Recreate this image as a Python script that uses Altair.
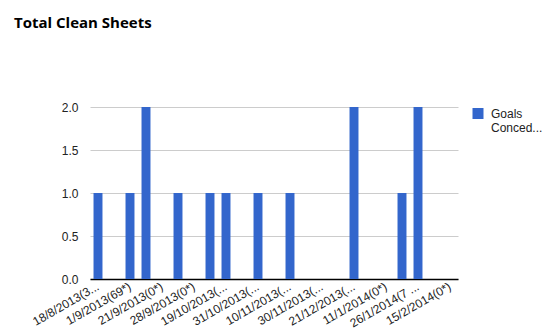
import json
import altair as alt
import pandas as pd

# Values per match (23 matches), only every other label shown on axis
goals = [1, 0, 1, 2, 0, 1, 0, 1, 1, 0, 1, 0, 1, 0, 0, 0, 2, 0, 0, 1, 2, 0, 0]
tick_labels = [
    "18/8/2013(3...", "1/9/2013(69*)", "21/9/2013(0*)", "28/9/2013(0*)",
    "19/10/2013(...", "31/10/2013(...", "10/11/2013(...", "30/11/2013(...",
    "21/12/2013(...", "11/1/2014(0*)", "26/1/2014(7 ...", "15/2/2014(0*)",
]
series_name = "Goals Conceded"

df = pd.DataFrame({
    "idx": list(range(len(goals))),
    "goals": goals,
    "series": [series_name] * len(goals),
})

label_expr = (
    "datum.value % 2 == 0 ? " + json.dumps(tick_labels) + "[datum.value / 2] : ''"
)

chart = alt.Chart(df).mark_bar(color="#3366cc").encode(
    x=alt.X(
        "idx:O",
        title=None,
        scale=alt.Scale(paddingInner=0.44, paddingOuter=0.22),
        axis=alt.Axis(
            labelExpr=label_expr,
            labelAngle=-30,
            labelAlign="right",
            labelBaseline="middle",
            labelPadding=6,
            ticks=False,
            domainColor="#000000",
            domainWidth=1.5,
            labelFont="Liberation Sans",
            labelFontSize=12,
            labelColor="#222222",
            labelOverlap=False,
            labelLimit=200,
            grid=False,
        ),
    ),
    y=alt.Y(
        "goals:Q",
        title=None,
        scale=alt.Scale(domain=[0, 2]),
        axis=alt.Axis(
            values=[0, 0.5, 1, 1.5, 2],
            format=".1f",
            ticks=False,
            domain=False,
            gridColor="#cccccc",
            labelFont="Liberation Sans",
            labelFontSize=12,
            labelColor="#222222",
            labelPadding=12,
        ),
    ),
    color=alt.Color(
        "series:N",
        scale=alt.Scale(range=["#3366cc"]),
        legend=alt.Legend(
            title=None,
            orient="none",
            legendX=382,
            legendY=5,
            symbolType="M-1,-1.82H1V0.18H-1Z",
            symbolSize=121,
            symbolStrokeWidth=0,
            labelFont="Liberation Sans",
            labelFontSize=12,
            labelColor="#222222",
            labelExpr="['Goals', 'Conced...']",
            labelBaseline="alphabetic",
            labelOffset=7,
        ),
    ),
).properties(
    width=368,
    height=172,
    title=alt.TitleParams(
        "Total Clean Sheets",
        anchor="start",
        frame="group",
        dx=-76,
        offset=70,
        font="Open Sans",
        fontSize=15,
        fontWeight="bold",
        color="#000000",
    ),
    autosize=alt.AutoSizeParams(type="none"),
    padding={"left": 90, "top": 107, "right": 89, "bottom": 54},
).configure_view(stroke=None)

chart.save("out.html", embed_options={"renderer": "svg", "actions": False})
